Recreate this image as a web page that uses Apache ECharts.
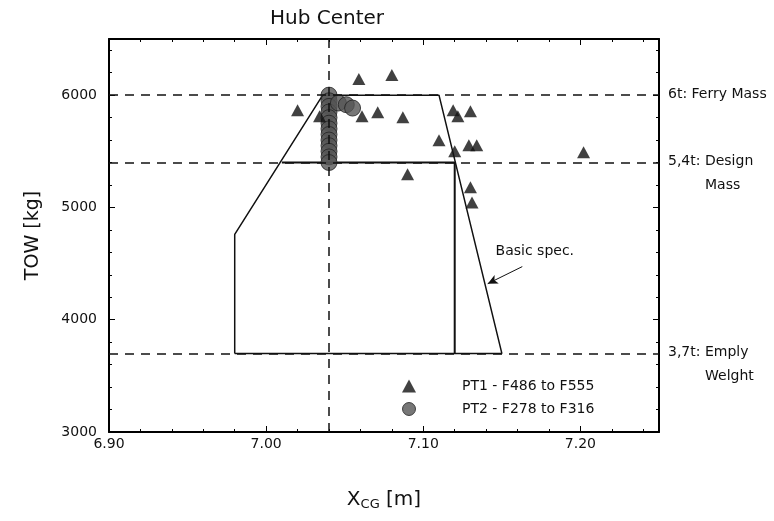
<!DOCTYPE html>
<html>
<head>
<meta charset="utf-8">
<script src="https://cdn.jsdelivr.net/npm/echarts@6/dist/echarts.min.js"></script>
<style>
  html, body { margin: 0; padding: 0; background: #fff; }
  #chart { width: 774px; height: 521px; }
</style>
</head>
<body>
<div id="chart"></div>
<script>
// PT1 - F486 to F555 (triangles)  [Xcg m, TOW kg]
const pt1 = [
  [7.059, 6143], [7.080, 6179], [7.020, 5866], [7.034, 5812],
  [7.061, 5812], [7.071, 5848], [7.087, 5804], [7.119, 5866],
  [7.122, 5812], [7.130, 5857], [7.110, 5598], [7.120, 5500],
  [7.129, 5554], [7.134, 5554], [7.090, 5295], [7.130, 5179],
  [7.131, 5045], [7.202, 5491]
];
// PT2 - F278 to F316 (circles)
const pt2 = [
  [7.04, 6000], [7.04, 5950], [7.04, 5900], [7.04, 5850], [7.04, 5800],
  [7.04, 5750], [7.04, 5700], [7.04, 5650], [7.04, 5600], [7.04, 5550],
  [7.04, 5500], [7.04, 5450], [7.04, 5400],
  [7.046, 5930], [7.051, 5915], [7.055, 5885]
];
// basic spec envelope
const envelope = [[6.98, 3700], [6.98, 4760], [7.036, 6000], [7.11, 6000], [7.15, 3700], [6.98, 3700]];
// design mass limit / hub centre limit
const inner = [[7.01, 5400], [7.12, 5400], [7.12, 3700]];
// reference masses
const massLines = [6000, 5400, 3700];
const massLabels = [['6t: Ferry Mass'], ['5,4t: Design', 'Mass'], ['3,7t: Emply', 'Welght']];
const hubCenter = 7.04;
const specArrow = [[7.163, 4473], [7.141, 4321]];
const specText = [7.146, 4598];

const chart = echarts.init(document.getElementById('chart'));
const font = 'DejaVu Sans, Liberation Sans, sans-serif';
const ink = '#111';

const axisCommon = {
  axisLine: { show: true, lineStyle: { color: '#000', width: 2 } },
  axisTick: { show: true, inside: true, length: 6, lineStyle: { color: '#000', width: 1 } },
  minorTick: { show: true, splitNumber: 5, length: 3, lineStyle: { color: '#000' } },
  splitLine: { show: false }
};

chart.setOption({
  animation: false,
  backgroundColor: '#fff',
  textStyle: { fontFamily: font },
  title: {
    text: 'Hub Center', left: 322, top: 4, textAlign: 'center',
    textStyle: { fontSize: 20, fontWeight: 'normal', color: ink, fontFamily: font }
  },
  grid: { left: 109, right: 115, top: 39, bottom: 89 },
  legend: {
    orient: 'vertical', left: 397, top: 374, itemGap: 9,
    itemWidth: 14, itemHeight: 13,
    textStyle: { fontSize: 14, color: ink, fontFamily: font, padding: [0, 0, 0, 41] },
    data: [
      { name: 'PT1 - F486 to F555', icon: 'triangle', itemStyle: { color: ink } },
      { name: 'PT2 - F278 to F316', icon: 'circle', itemStyle: { color: '#555', borderColor: '#222', borderWidth: 1 } }
    ]
  },
  xAxis: [
    Object.assign({
      type: 'value', min: 6.9, max: 7.25, interval: 0.1,
      name: '{x|X}{s|CG}{m| [m]}', nameLocation: 'middle', nameGap: 56,
      nameTextStyle: {
        rich: {
          x: { fontSize: 20, color: ink, fontFamily: font },
          s: { fontSize: 13, color: ink, fontFamily: font, padding: [10, 0, 0, 0] },
          m: { fontSize: 20, color: ink, fontFamily: font }
        }
      },
      axisLabel: { fontSize: 14, color: ink, fontFamily: font, margin: 5, showMaxLabel: false, formatter: v => v.toFixed(2) }
    }, axisCommon),
    Object.assign({
      type: 'value', min: 6.9, max: 7.25, interval: 0.1, position: 'top',
      axisLabel: { show: false }
    }, axisCommon)
  ],
  yAxis: [
    Object.assign({
      type: 'value', min: 3000, max: 6500, interval: 1000,
      name: 'TOW [kg]', nameLocation: 'middle', nameGap: 66,
      nameTextStyle: { fontSize: 19, color: ink, fontFamily: font },
      axisLabel: { fontSize: 14, color: ink, fontFamily: font, margin: 12, showMaxLabel: false, formatter: v => String(v) }
    }, axisCommon),
    Object.assign({
      type: 'value', min: 3000, max: 6500, interval: 1000, position: 'right',
      axisLabel: { show: false }
    }, axisCommon)
  ],
  series: [
    {
      type: 'line', data: envelope, symbol: 'none', z: 2,
      lineStyle: { color: ink, width: 1.5 },
      markLine: {
        silent: true, symbol: 'none', label: { show: false },
        lineStyle: { color: ink, width: 1.5, type: [9, 7] },
        data: massLines.map(v => ({ yAxis: v })).concat([{ xAxis: hubCenter }])
      }
    },
    {
      type: 'line', data: inner, symbol: 'none', z: 2,
      lineStyle: { color: ink, width: 2 },
      markLine: {
        silent: true, symbol: ['none', 'arrow'], symbolSize: [7, 10], label: { show: false },
        lineStyle: { color: ink, width: 1, type: 'solid' },
        data: [[{ coord: specArrow[0] }, { coord: specArrow[1] }]]
      }
    },
    {
      name: 'PT2 - F278 to F316', type: 'scatter', data: pt2, symbol: 'circle', symbolSize: 16, z: 4,
      itemStyle: { color: '#555', borderColor: '#222', borderWidth: 1 }
    },
    {
      name: 'PT1 - F486 to F555', type: 'scatter', data: pt1, symbol: 'triangle', symbolSize: [13, 12], z: 5,
      itemStyle: { color: ink }
    }
  ]
});

// annotations placed through the axis scales
const px = p => chart.convertToPixel({ gridIndex: 0 }, p);
const graphics = [];
massLines.forEach((v, i) => {
  const p = px([7.25, v]);
  graphics.push({
    type: 'text', left: p[0] + 9, top: p[1] - 8,
    style: { text: massLabels[i][0], fontSize: 14, fill: ink, fontFamily: font }
  });
  if (massLabels[i][1]) {
    graphics.push({
      type: 'text', left: p[0] + 46, top: p[1] + 16,
      style: { text: massLabels[i][1], fontSize: 14, fill: ink, fontFamily: font }
    });
  }
});
const st = px(specText);
graphics.push({
  type: 'text', left: st[0], top: st[1] - 8,
  style: { text: 'Basic spec.', fontSize: 14, fill: ink, fontFamily: font }
});
chart.setOption({ graphic: graphics });
</script>
</body>
</html>
